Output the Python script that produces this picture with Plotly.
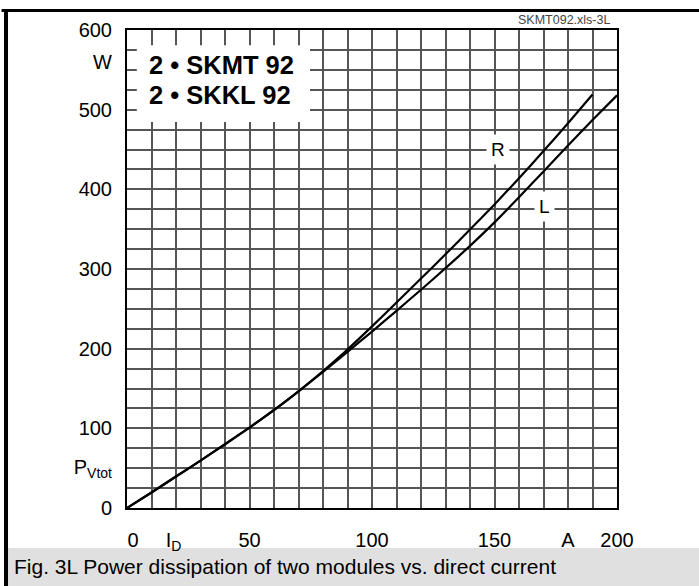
import plotly.graph_objects as go

# ---- data ----
current_R = [0, 10, 20, 30, 40, 50, 60, 70, 80, 90, 100, 110, 120, 130, 140, 150, 160, 170, 180, 190]
power_R = [0, 19.5, 39.5, 59.5, 80, 101, 123, 146.5, 172, 199, 228, 258, 288, 318.5, 349.5, 381, 414, 448, 483, 519]

current_L = [0, 10, 20, 30, 40, 50, 60, 70, 80, 90, 100, 110, 120, 130, 140, 150, 160, 170, 180, 190, 200]
power_L = [0, 19.5, 39.5, 59.5, 80, 101, 123, 146.5, 171, 196, 221.5, 247.5, 274, 301, 329, 358.5, 390, 422.5, 455, 487, 518]

x_tick_vals = [2.5, 19, 50, 100, 150, 180, 200]
x_tick_text = ["0", "I<sub>D</sub>", "50", "100", "150", "A", "200"]
y_tick_vals = [0, 52, 100, 200, 300, 400, 500, 560, 600]
y_tick_text = ["0", "P<sub>Vtot</sub>", "100", "200", "300", "400", "500", "W", "600"]

device_lines = ["2 • SKMT 92", "2 • SKKL 92"]
curve_labels = ["R", "L"]
caption = "Fig. 3L Power dissipation of two modules vs. direct current"
file_tag = "SKMT092.xls-3L"

FONT = "Liberation Sans, Arial, Helvetica, sans-serif"

fig = go.Figure()
fig.add_trace(go.Scatter(x=current_R, y=power_R, mode="lines",
                         line=dict(color="black", width=2.2, shape="spline", smoothing=0.5),
                         hoverinfo="skip", showlegend=False))
fig.add_trace(go.Scatter(x=current_L, y=power_L, mode="lines",
                         line=dict(color="black", width=2.2, shape="spline", smoothing=0.5),
                         hoverinfo="skip", showlegend=False))
# invisible trace to activate the labelling axes
fig.add_trace(go.Scatter(x=[0], y=[0], xaxis="x2", yaxis="y2", mode="markers",
                         marker=dict(opacity=0), hoverinfo="skip", showlegend=False))

grid_col = "#555555"
fig.update_layout(
    width=699, height=586,
    margin=dict(l=127, r=82, t=30, b=78),
    paper_bgcolor="white", plot_bgcolor="white",
    font=dict(family=FONT, color="black", size=20),
    xaxis=dict(range=[0, 200], dtick=10, tick0=0, showgrid=True, gridcolor=grid_col, gridwidth=1.6,
               showticklabels=False, ticks="", zeroline=False,
               showline=True, linecolor="black", linewidth=2, mirror=True),
    yaxis=dict(range=[0, 600], dtick=25, tick0=0, showgrid=True, gridcolor=grid_col, gridwidth=1.6,
               showticklabels=False, ticks="", zeroline=False,
               showline=True, linecolor="black", linewidth=2, mirror=True),
    xaxis2=dict(overlaying="x", anchor="y", side="bottom", range=[0, 200],
                tickmode="array", tickvals=x_tick_vals, ticktext=x_tick_text,
                showgrid=False, zeroline=False, ticks="", ticklabelstandoff=18,
                tickfont=dict(size=20, family=FONT, color="black")),
    yaxis2=dict(overlaying="y", anchor="x", side="left", range=[0, 600],
                tickmode="array", tickvals=y_tick_vals, ticktext=y_tick_text,
                showgrid=False, zeroline=False, ticks="", ticklabelstandoff=14,
                tickfont=dict(size=20, family=FONT, color="black")),
)

shapes = [
    # white box behind the device names
    dict(type="rect", xref="x", yref="y", x0=4, x1=74.7, y0=484.5, y1=581,
         fillcolor="white", line=dict(width=0), layer="between"),
    # caption band
    dict(type="rect", xref="paper", yref="paper", x0=-0.247, x1=1.17, y0=-0.17, y1=-0.0837,
         fillcolor="#e0e0e0", line=dict(width=0), layer="below"),
    # outer frame lines
    dict(type="line", xref="paper", yref="paper", x0=-0.256, x1=1.17, y0=1.0408, y1=1.0408,
         line=dict(color="black", width=3), layer="above"),
    dict(type="line", xref="paper", yref="paper", x0=-0.2469, x1=-0.2469, y0=1.044, y1=-0.17,
         line=dict(color="black", width=4), layer="above"),
]
fig.update_layout(shapes=shapes)

annotations = [
    dict(text="<b>%s</b>" % device_lines[0], x=8.0, y=556, xref="x", yref="y",
         xanchor="left", yanchor="middle", showarrow=False, font=dict(size=25.5, family=FONT)),
    dict(text="<b>%s</b>" % device_lines[1], x=8.0, y=518, xref="x", yref="y",
         xanchor="left", yanchor="middle", showarrow=False, font=dict(size=25.5, family=FONT)),
    dict(text=curve_labels[0], x=151.4, y=449.5, xref="x", yref="y", showarrow=False,
         bgcolor="white", borderpad=4, font=dict(size=19, family=FONT)),
    dict(text=curve_labels[1], x=170.6, y=378, xref="x", yref="y", showarrow=False,
         bgcolor="white", borderpad=4, font=dict(size=19, family=FONT)),
    dict(text=caption, x=-0.2347, y=-0.1234, xref="paper", yref="paper",
         xanchor="left", yanchor="middle", showarrow=False, font=dict(size=21, family=FONT)),
    dict(text=file_tag, x=0.9898, y=1.0209, xref="paper", yref="paper",
         xanchor="right", yanchor="middle", showarrow=False,
         font=dict(size=12.5, family=FONT, color="#444444")),
]
fig.update_layout(annotations=annotations)

fig.write_html("out.html",
               config={"displayModeBar": False},
               post_script="document.body.style.margin='0';document.body.style.overflow='hidden';")
